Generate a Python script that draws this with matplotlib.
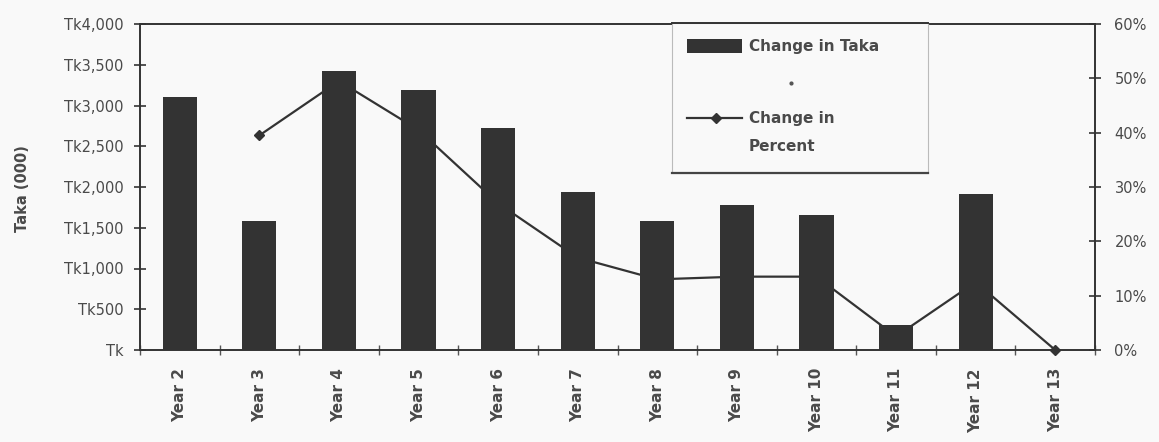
import numpy as np
import matplotlib
matplotlib.use("Agg")
import matplotlib.pyplot as plt
from matplotlib.ticker import FuncFormatter, FixedLocator
from matplotlib.patches import Rectangle
from matplotlib.lines import Line2D

# ---- data -------------------------------------------------------------
years = ["Year 2", "Year 3", "Year 4", "Year 5", "Year 6", "Year 7",
         "Year 8", "Year 9", "Year 10", "Year 11", "Year 12", "Year 13"]
change_taka = [3100, 1580, 3420, 3190, 2720, 1940, 1580, 1780, 1660, 310, 1920, 0]
change_pct = [np.nan, 39.5, 49.5, 40.5, 27.0, 17.0, 13.0, 13.5, 13.5, 2.5, 12.5, 0.0]
taka_ticks = [0, 500, 1000, 1500, 2000, 2500, 3000, 3500, 4000]
pct_ticks = [0, 10, 20, 30, 40, 50, 60]

# ---- style ------------------------------------------------------------
W, H = 1159, 442
BG = "#f9f9f9"
DARK = "#333333"
TXT = "#4a4a4a"
plt.rcParams["font.family"] = ["DejaVu Sans"]

fig = plt.figure(figsize=(W / 100, H / 100), dpi=100, facecolor=BG)


def fx(px):
    return px / W


def fy(py):
    return 1 - py / H


ax = fig.add_axes([fx(140), fy(350), fx(1095) - fx(140), fy(24) - fy(350)])
ax.set_facecolor(BG)
x = np.arange(len(years))

ax.bar(x, change_taka, width=0.43, color=DARK, zorder=2)
ax.set_xlim(-0.5, len(years) - 0.5)
ax.set_ylim(0, 4000)
ax.yaxis.set_major_locator(FixedLocator(taka_ticks))
ax.yaxis.set_major_formatter(FuncFormatter(lambda v, p: "Tk" if v == 0 else f"Tk{int(v):,}"))
ax.tick_params(axis="y", direction="inout", length=8, width=1.2, colors=DARK,
               labelcolor=TXT, labelsize=10.5, pad=8)
ax.set_ylabel("Taka (000)", fontsize=10.5, fontweight="bold", color=TXT)
ax.yaxis.set_label_coords((30 - 140) / 955, 0.494)

# category ticks sit between the bars
ax.set_xticks(x)
ax.set_xticklabels(years, rotation=90, fontsize=11, fontweight="bold", color=TXT)
ax.tick_params(axis="x", length=0, pad=13)
ax.set_xticks(np.arange(len(years) + 1) - 0.5, minor=True)
ax.tick_params(axis="x", which="minor", direction="inout", length=7, width=1, colors="#555555")

for side in ("left", "bottom", "right", "top"):
    ax.spines[side].set_color(DARK)
    ax.spines[side].set_linewidth(1.4)

# percent line on the secondary axis
ax2 = ax.twinx()
ax2.plot(x, change_pct, color=DARK, lw=1.6, marker="D", markersize=5.5,
         zorder=3, clip_on=False)
ax2.set_ylim(0, 60)
ax2.yaxis.set_major_locator(FixedLocator(pct_ticks))
ax2.yaxis.set_major_formatter(FuncFormatter(lambda v, p: f"{int(v)}%"))
ax2.tick_params(axis="y", direction="inout", length=8, width=1.2, colors=DARK,
                labelcolor=TXT, labelsize=10.5, pad=10)
for side in ("left", "bottom", "right", "top"):
    ax2.spines[side].set_visible(False)
ax.set_zorder(1)
ax2.set_zorder(2)
ax2.patch.set_visible(False)

# ---- legend box -------------------------------------------------------
lx0, lx1, ly0, ly1 = 672, 928, 23, 173
fig.patches.append(Rectangle((fx(lx0), fy(ly1)), fx(lx1) - fx(lx0), fy(ly0) - fy(ly1),
                             transform=fig.transFigure, facecolor=BG,
                             edgecolor="#bbbbbb", lw=0.8, zorder=5))
fig.lines.append(Line2D([fx(lx0), fx(lx1)], [fy(ly1), fy(ly1)], transform=fig.transFigure,
                        color="#444444", lw=1.6, zorder=6))
fig.lines.append(Line2D([fx(lx0), fx(lx1)], [fy(ly0), fy(ly0)], transform=fig.transFigure,
                        color=DARK, lw=1.4, zorder=6))
fig.patches.append(Rectangle((fx(687), fy(53)), fx(742) - fx(687), fy(39) - fy(53),
                             transform=fig.transFigure, facecolor=DARK,
                             edgecolor="none", zorder=6))
fig.text(fx(749), fy(46), "Change in Taka", fontsize=11, fontweight="bold", color=TXT,
         va="center", ha="left", zorder=7)
fig.lines.append(Line2D([fx(791)], [fy(83)], transform=fig.transFigure, marker="o",
                        markersize=2, color="#555555", lw=0, zorder=6))
fig.lines.append(Line2D([fx(687), fx(742)], [fy(118), fy(118)], transform=fig.transFigure,
                        color=DARK, lw=1.6, zorder=6))
fig.lines.append(Line2D([fx(716)], [fy(118)], transform=fig.transFigure, marker="D",
                        markersize=5.5, color=DARK, lw=0, zorder=7))
fig.text(fx(749), fy(118), "Change in", fontsize=11, fontweight="bold", color=TXT,
         va="center", ha="left", zorder=7)
fig.text(fx(749), fy(147), "Percent", fontsize=11, fontweight="bold", color=TXT,
         va="center", ha="left", zorder=7)

fig.savefig("out.png", dpi=100, facecolor=BG)
